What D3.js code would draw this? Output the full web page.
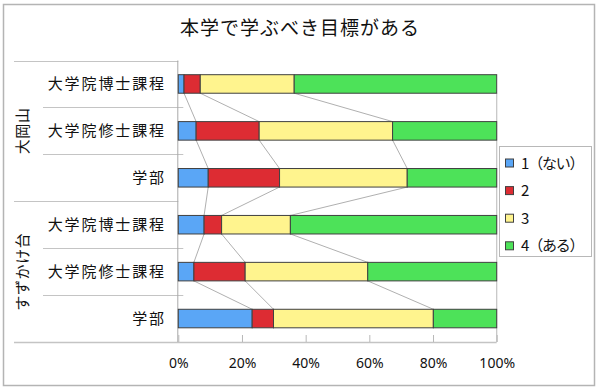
<!DOCTYPE html>
<html><head><meta charset="utf-8">
<script src="https://cdn.jsdelivr.net/npm/d3@7"></script>
<style>
html,body{margin:0;padding:0;background:#fff;}
svg{display:block;font-family:"Noto Sans CJK JP","Noto Sans",sans-serif;}
</style></head>
<body><svg id="c" width="600" height="391"></svg>
<script>
const title = "本学で学ぶべき目標がある";
const groups = ["大岡山", "すずかけ台"];
const groupSizes = [3, 3];
const categories = ["大学院博士課程", "大学院修士課程", "学部", "大学院博士課程", "大学院修士課程", "学部"];
const seriesNames = ["1（ない）", "2", "3", "4（ある）"];
const seriesColors = ["#5aa6f6", "#dd2c33", "#fff48e", "#4de259"];
const s1 = [1.8, 5.6, 9.4, 8.1, 4.9, 23.2];
const s2 = [5.1, 19.8, 22.4, 5.5, 16.1, 6.7];
const s3 = [29.5, 41.9, 40.1, 21.6, 38.5, 50.2];
const s4 = [63.6, 32.7, 28.1, 64.8, 40.5, 19.9];
const xTicks = [0, 0.2, 0.4, 0.6, 0.8, 1.0];

const svg = d3.select("#c");
const plot = {left: 178.3, right: 496.7, top: 60.5, bottom: 342};

const rows = categories.map((c, i) => {
  const tot = s1[i] + s2[i] + s3[i] + s4[i];
  return {idx: i, name: c, v: [s1[i] / tot, s2[i] / tot, s3[i] / tot, s4[i] / tot]};
});
const stack = d3.stack().keys([0, 1, 2, 3]).value((d, k) => d.v[k]);
const stacked = stack(rows);

const x = d3.scaleLinear().domain([0, 1]).range([plot.left, plot.right]);
const y = d3.scaleBand().domain(rows.map(r => r.idx)).range([plot.top, plot.bottom])
  .paddingInner(0.605).paddingOuter(0.3025);

// outer border
svg.append("rect").attr("x", 3.5).attr("y", 4.5).attr("width", 591).attr("height", 381)
  .attr("fill", "#fff").attr("stroke", "#b4b4b4").attr("stroke-width", 1.5);

// title
svg.append("text").attr("x", 300).attr("y", 35).attr("text-anchor", "middle")
  .attr("font-size", 19).attr("letter-spacing", 1).attr("fill", "#111").text(title);

const step = y.step();
const gridG = svg.append("g");
let start = 0;
const groupBounds = [];
groupSizes.forEach((n, gi) => {
  const top = plot.top + start * step;
  const bot = plot.top + (start + n) * step;
  groupBounds.push([top, bot]);
  for (let k = 1; k < n; k++) {
    const yy = Math.round(plot.top + (start + k) * step) + 0.5;
    gridG.append("line").attr("x1", 43).attr("x2", plot.left + 5).attr("y1", yy).attr("y2", yy)
      .attr("stroke", "#c4c4c4").attr("stroke-width", 1);
  }
  start += n;
});
[plot.top, groupBounds[0][1]].forEach(b => {
  const yy = Math.round(b) + 0.5;
  gridG.append("line").attr("x1", 14).attr("x2", plot.left).attr("y1", yy).attr("y2", yy)
    .attr("stroke", "#c4c4c4").attr("stroke-width", 1.2);
});
gridG.append("line").attr("x1", 14).attr("x2", plot.right).attr("y1", plot.bottom + 0.5).attr("y2", plot.bottom + 0.5)
  .attr("stroke", "#c4c4c4").attr("stroke-width", 1.5);
gridG.append("line").attr("x1", plot.right).attr("x2", plot.right).attr("y1", y(0) + y.bandwidth()).attr("y2", plot.bottom)
  .attr("stroke", "#c4c4c4").attr("stroke-width", 1.2);
gridG.append("line").attr("x1", plot.left - 0.5).attr("x2", plot.left - 0.5).attr("y1", plot.top).attr("y2", plot.bottom)
  .attr("stroke", "#a8a8a8").attr("stroke-width", 1);

// x axis
const xAxis = d3.axisBottom(x).tickValues(xTicks).tickFormat(d3.format(".0%")).tickSizeInner(-7).tickSizeOuter(0).tickPadding(16);
const xa = svg.append("g").attr("transform", `translate(0,${plot.bottom})`).call(xAxis);
xa.select(".domain").remove();
xa.selectAll("line").attr("stroke", "#b8b8b8");
xa.selectAll("text").attr("font-size", 14).attr("fill", "#111").attr("font-family", "\"Noto Sans\",sans-serif");

// series lines
const sl = svg.append("g");
for (let k = 0; k < 3; k++) {
  for (let i = 0; i < rows.length - 1; i++) {
    sl.append("line")
      .attr("x1", x(stacked[k][i][1])).attr("y1", y(i) + y.bandwidth())
      .attr("x2", x(stacked[k][i + 1][1])).attr("y2", y(i + 1))
      .attr("stroke", "#b0b0b0").attr("stroke-width", 1);
  }
}

// bars
stacked.forEach((layer, k) => {
  svg.append("g").selectAll("rect").data(layer).join("rect")
    .attr("x", d => x(d[0])).attr("y", (d, i) => y(i))
    .attr("width", d => x(d[1]) - x(d[0])).attr("height", y.bandwidth())
    .attr("fill", seriesColors[k]).attr("stroke", "#404040").attr("stroke-width", 1);
});

// category labels
svg.append("g").selectAll("text").data(rows).join("text")
  .attr("x", 166).attr("y", d => y(d.idx) + y.bandwidth() / 2 + 5.5)
  .attr("text-anchor", "end").attr("font-size", 15).attr("letter-spacing", 1.9)
  .attr("fill", "#111").text(d => d.name);

// group labels
groups.forEach((g, gi) => {
  const cy = (groupBounds[gi][0] + groupBounds[gi][1]) / 2;
  svg.append("text").attr("transform", `translate(28,${cy}) rotate(-90)`)
    .attr("text-anchor", "middle").attr("font-size", 15).attr("letter-spacing", 0.6)
    .attr("fill", "#111").text(g);
});

// legend
const lg = svg.append("g");
lg.append("rect").attr("x", 499.5).attr("y", 146.5).attr("width", 92).attr("height", 110)
  .attr("fill", "#fff").attr("stroke", "#b8b8b8").attr("stroke-width", 1);
seriesNames.forEach((n, k) => {
  const cy = 163.5 + k * 27.6;
  lg.append("rect").attr("x", 505.5).attr("y", cy - 4.5).attr("width", 8).attr("height", 8)
    .attr("fill", seriesColors[k]).attr("stroke", "#404040").attr("stroke-width", 1);
  lg.append("text").attr("x", 521).attr("y", cy + 5).attr("font-size", 15).attr("letter-spacing", -1.2)
    .attr("fill", "#111").text(n);
});
</script></body></html>
